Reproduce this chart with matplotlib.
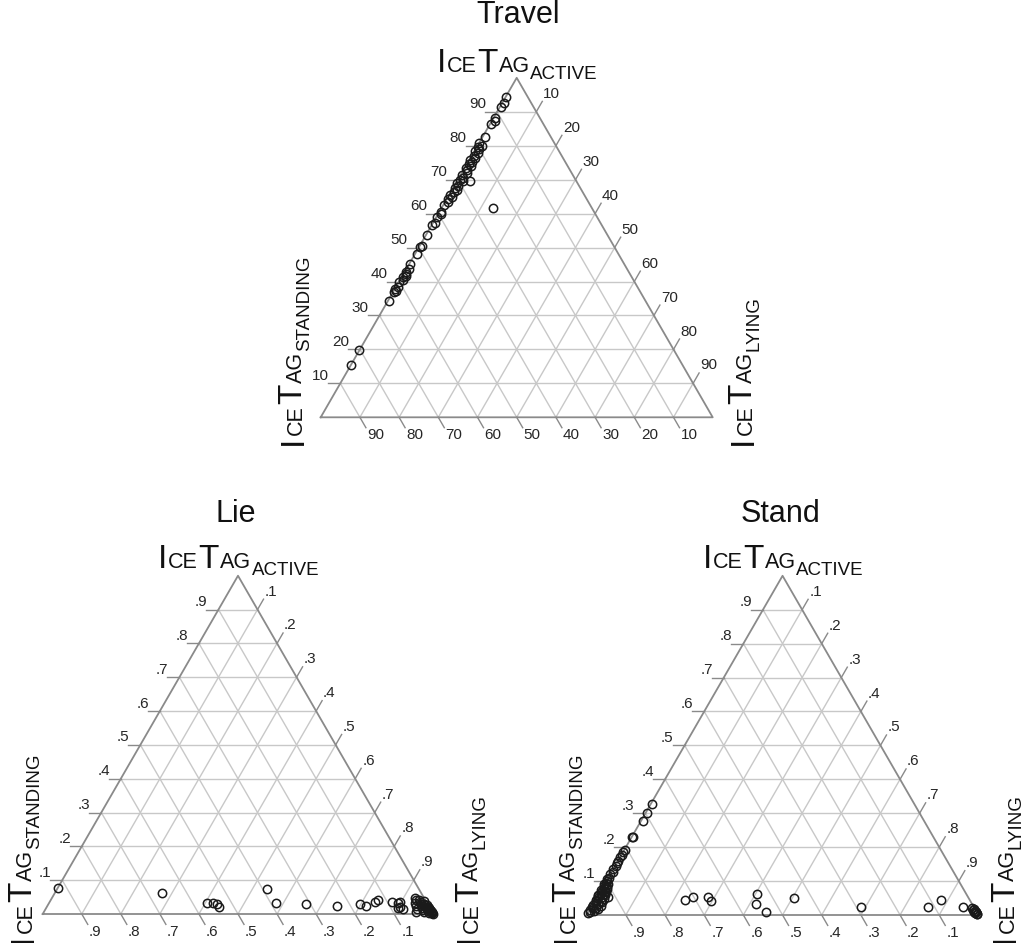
import numpy as np
import matplotlib
matplotlib.use("Agg")
import matplotlib.pyplot as plt

plt.rcParams['font.family'] = ['Liberation Sans', 'DejaVu Sans']

FIG_W, FIG_H = 1024, 943
H = np.sqrt(3) / 2

# ---------------- data (percent) ----------------
travel_active = [94.4, 92.7, 91.4, 88.2, 87.2, 86.4, 82.7, 80.8, 80.0, 79.5,
                 79.0, 78.3, 77.8, 77.0, 76.5, 75.8, 75.2, 74.6, 74.0, 73.4,
                 72.8, 72.0, 71.4, 70.6, 70.0, 69.6, 69.0, 68.2, 67.5, 67.0,
                 66.4, 65.6, 64.8, 64.2, 63.5, 62.6, 60.5, 59.8, 59.0, 57.1,
                 56.6, 53.6, 50.6, 50.1, 48.2, 45.2, 43.7, 42.9, 42.2, 41.6,
                 41.2, 40.5, 39.8, 38.3, 37.8, 37.2, 36.8, 34.3, 19.7, 15.3,
                 69.7, 61.6]
travel_lying = [0.0, 0.5, 0.3, 0.4, 0.8, 0.2, 0.6, 0.0, 1.2, 0.4,
                1.0, 0.3, 1.3, 0.6, 1.0, 0.2, 0.9, 0.5, 1.4, 0.3,
                0.8, 1.2, 0.4, 1.0, 0.6, 1.5, 0.2, 0.9, 0.4, 1.2,
                0.7, 0.3, 1.0, 0.5, 0.8, 0.2, 0.4, 0.9, 0.2, 0.5,
                0.1, 0.3, 0.6, 0.2, 0.4, 0.3, 0.8, 0.2, 0.6, 1.0,
                0.3, 0.7, 0.2, 0.5, 0.1, 0.6, 0.3, 0.2, 0.0, 0.0,
                3.3, 13.2]

lie_active = [7.6, 6.1, 3.3, 3.3, 3.1, 2.2, 7.3, 3.3, 3.0, 2.5,
              3.0, 2.5, 3.6, 4.1, 3.5, 3.6, 3.2, 2.2, 1.4, 1.7,
              4.6, 4.0, 3.2, 2.5, 1.5, 0.7, 4.2, 3.6, 3.0, 2.4,
              1.8, 1.2, 0.6, 3.8, 3.1, 2.6, 2.0, 1.4, 0.9, 0.4,
              0.2, 2.8, 2.2, 1.6, 1.1, 0.6, 0.3, 1.8, 1.3, 0.8,
              0.5, 0.1]
lie_lying = [0.0, 27.6, 40.5, 42.0, 43.0, 44.0, 53.7, 58.0, 65.9, 74.2,
             79.7, 81.5, 83.3, 83.8, 87.6, 89.7, 89.4, 90.4, 91.6, 90.2,
             93.0, 93.5, 93.8, 94.2, 95.0, 95.2, 94.2, 94.8, 95.3, 95.8,
             96.3, 96.8, 97.4, 95.6, 96.1, 96.6, 97.1, 97.6, 98.2, 98.8,
             99.5, 96.9, 97.5, 98.0, 98.5, 99.0, 99.4, 97.9, 98.4, 98.9,
             99.3, 99.8]

stand_active = [0.5, 1.0, 1.5, 2.0, 2.5, 3.0, 3.5, 4.0, 4.5, 5.0,
                5.5, 6.0, 6.5, 7.0, 7.5, 8.0, 8.5, 9.0, 9.5, 10.0,
                10.5, 11.0, 12.0, 12.8, 13.5, 14.5, 15.3, 16.0, 17.0, 17.8,
                18.5, 19.2, 1.2, 2.2, 3.2, 4.2, 5.2, 6.2, 7.2, 8.2,
                9.2, 1.8, 2.8, 3.8, 4.8, 5.8, 6.8, 7.8,
                22.9, 23.1, 27.8, 30.2, 32.7,
                5.4, 4.4, 5.2, 5.4, 4.1, 6.1, 3.2, 0.8, 4.9, 2.4,
                2.4, 4.4, 2.4,
                2.0, 1.5, 1.0, 0.5, 0.2, 1.3, 0.8, 0.4, 1.7, 1.0]
stand_lying = [0.0, 0.3, 0.0, 0.5, 0.2, 0.0, 0.6, 0.3, 0.0, 0.4,
               0.2, 0.0, 0.5, 0.3, 0.0, 0.4, 0.2, 0.0, 0.3, 0.1,
               0.0, 0.2, 0.0, 0.3, 0.0, 0.2, 0.0, 0.1, 0.0, 0.2,
               0.0, 0.1, 1.2, 1.4, 1.3, 1.5, 1.2, 1.4, 1.1, 1.2,
               0.9, 2.0, 2.2, 2.1, 2.0, 1.8, 1.6, 1.3,
               0.0, 0.2, 0.5, 0.2, 0.4,
               2.8, 22.9, 24.6, 28.3, 29.6, 40.3, 41.6, 45.3, 50.5, 68.8,
               86.0, 88.3, 94.8,
               97.3, 97.8, 98.4, 99.0, 99.6, 98.4, 99.0, 99.5, 97.9, 98.8]

titles = ["Travel", "Lie", "Stand"]
tick_values = [0.1, 0.2, 0.3, 0.4, 0.5, 0.6, 0.7, 0.8, 0.9]
travel_tick_labels = ["10", "20", "30", "40", "50", "60", "70", "80", "90"]
frac_tick_labels = [".1", ".2", ".3", ".4", ".5", ".6", ".7", ".8", ".9"]

# ---------------- styling ----------------
GRID_C = "#c8c8c8"
EDGE_C = "#8a8a8a"
TICK_C = "#8a8a8a"
TXT_C = "#262626"


def tern(a, l):
    a = np.asarray(a, float) / 100.0
    l = np.asarray(l, float) / 100.0
    return l + a / 2.0, a * H


def make_ternary(fig, bl_x, bl_y, width, active, lying, labels):
    ax = fig.add_axes([bl_x / FIG_W, (FIG_H - bl_y) / FIG_H,
                       width / FIG_W, width * H / FIG_H])
    ax.set_xlim(0, 1)
    ax.set_ylim(0, H)
    ax.axis("off")
    L = 12.0 / width
    px = 1.0 / width
    for v, lab in zip(tick_values, labels):
        ax.plot([v / 2, 1 - v / 2], [v * H, v * H], color=GRID_C, lw=1.0,
                zorder=1, clip_on=False)
        ax.plot([v, v + (1 - v) / 2], [0, (1 - v) * H], color=GRID_C,
                lw=1.0, zorder=1, clip_on=False)
        ax.plot([1 - v, (1 - v) / 2], [0, (1 - v) * H], color=GRID_C,
                lw=1.0, zorder=1, clip_on=False)
        # left ticks (active)
        x0, y0 = v / 2, v * H
        ax.plot([x0, x0 - L], [y0, y0], color=TICK_C, lw=1.0, clip_on=False)
        ax.text(x0 - L + 1 * px, y0 + 0.5 * px, lab, ha="right",
                va="bottom", fontsize=11, color=TXT_C)
        # right ticks (lying)
        x0, y0 = v + (1 - v) / 2, (1 - v) * H
        x1, y1 = x0 + 0.5 * L, y0 + H * L
        ax.plot([x0, x1], [y0, y1], color=TICK_C, lw=1.0, clip_on=False)
        ax.text(x1 + 1 * px, y1 + 0.5 * px, lab, ha="left",
                va="bottom", fontsize=11, color=TXT_C)
        # bottom ticks (standing)
        x0, y0 = 1 - v, 0
        x1, y1 = x0 + 0.5 * L, y0 - H * L
        ax.plot([x0, x1], [y0, y1], color=TICK_C, lw=1.0, clip_on=False)
        ax.text(x1 + 1 * px, y1 - 0.5 * px, lab, ha="left",
                va="top", fontsize=11, color=TXT_C)
    ax.plot([0, 1, 0.5, 0], [0, 0, H, 0], color=EDGE_C, lw=1.3, zorder=2,
            clip_on=False)
    xs, ys = tern(active, lying)
    ax.plot(xs, ys, linestyle="none", marker="o", ms=6.0, mfc="none",
            mec="#1a1a1a", mew=1.1, zorder=3, clip_on=False)
    return ax


fig = plt.figure(figsize=(FIG_W / 100, FIG_H / 100), dpi=100)
renderer = fig.canvas.get_renderer()

BIG, SMALL, SUB, SUBDROP, GAP = 24.0, 15.5, 13.5, 7.0, 0.8


def label(x, y, sub, rot=0):
    pieces = [("I", BIG, 0), ("CE", SMALL, 0), ("T", BIG, 0),
              ("AG", SMALL, 0), (sub, SUB, SUBDROP)]
    pos = 0.0
    for txt, size, drop in pieces:
        if rot == 0:
            px, py = x + pos, y + drop
        else:
            px, py = x + drop, y - pos
        t = fig.text(px / FIG_W, 1 - py / FIG_H, txt, fontsize=size,
                     rotation=rot, rotation_mode="anchor", ha="left",
                     va="baseline", color="#111111")
        bb = t.get_window_extent(renderer)
        pos += (bb.width if rot == 0 else bb.height) + GAP


def title(x, y, s):
    fig.text(x / FIG_W, 1 - y / FIG_H, s, fontsize=22, ha="center",
             va="baseline", color="#111111")


# Travel
make_ternary(fig, 320.7, 417.3, 392.0, travel_active, travel_lying,
             travel_tick_labels)
title(518, 23.3, titles[0])
label(436.7, 71.7, "ACTIVE")
label(301.7, 445, "STANDING", rot=90)
label(751.7, 445, "LYING", rot=90)

# Lie
make_ternary(fig, 42.7, 914.0, 390.6, lie_active, lie_lying,
             frac_tick_labels)
title(235.8, 522.3, titles[1])
label(158, 567.7, "ACTIVE")
label(31.7, 943, "STANDING", rot=90)
label(478, 943, "LYING", rot=90)

# Stand
make_ternary(fig, 586.7, 915.0, 391.7, stand_active, stand_lying,
             frac_tick_labels)
title(780.7, 521.7, titles[2])
label(702.7, 568.3, "ACTIVE")
label(575, 943, "STANDING", rot=90)
label(1014, 943, "LYING", rot=90)

fig.savefig("out.png", dpi=100, facecolor="white")
